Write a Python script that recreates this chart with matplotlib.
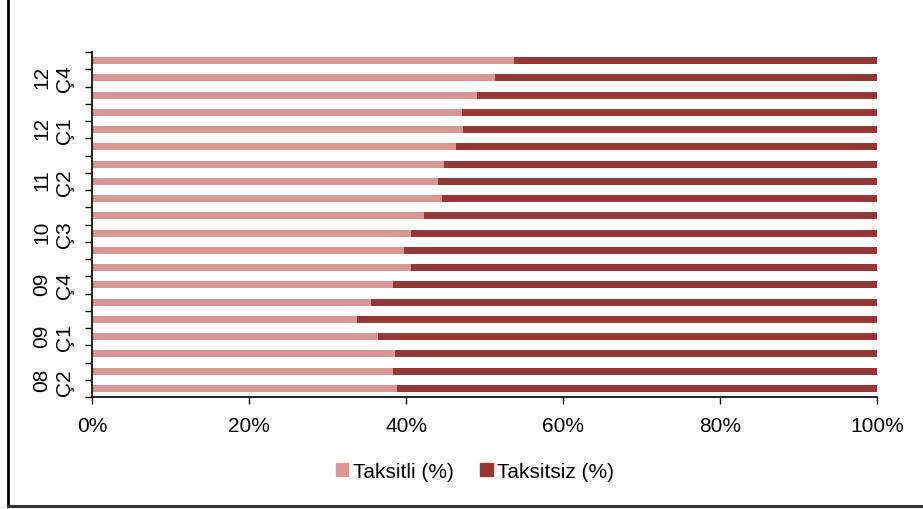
import numpy as np
import matplotlib.pyplot as plt
import matplotlib.transforms as mtransforms
from matplotlib.patches import Patch
from matplotlib.lines import Line2D

plt.rcParams['font.family'] = ['Liberation Sans', 'DejaVu Sans']

# quarters from 2008 Q2 to 2013 Q1 (bottom to top)
quarters = ["08\nÇ2", "08\nÇ3", "08\nÇ4",
            "09\nÇ1", "09\nÇ2", "09\nÇ3", "09\nÇ4",
            "10\nÇ1", "10\nÇ2", "10\nÇ3", "10\nÇ4",
            "11\nÇ1", "11\nÇ2", "11\nÇ3", "11\nÇ4",
            "12\nÇ1", "12\nÇ2", "12\nÇ3", "12\nÇ4",
            "13\nÇ1"]
taksitli = [38.9, 38.4, 38.6, 36.4, 33.7, 35.6, 38.4, 40.7, 39.8, 40.7,
            42.3, 44.6, 44.1, 44.8, 46.4, 47.2, 47.1, 49.0, 51.3, 53.7]
taksitsiz = [100 - v for v in taksitli]

light = "#D99694"
dark = "#953735"
fs = 15

fig = plt.figure(figsize=(9.23, 5.10), dpi=100)
ax = fig.add_axes([92 / 923, 1 - 398 / 510, 785 / 923, 345 / 510])

y = np.arange(len(quarters))
ax.barh(y, taksitli, height=0.4, color=light, label="Taksitli (%)")
ax.barh(y, taksitsiz, left=taksitli, height=0.4, color=dark, label="Taksitsiz (%)")

ax.set_xlim(0, 100)
ax.set_ylim(-0.5, len(quarters) - 0.5)
ax.set_xticks(range(0, 101, 20))
ax.set_xticklabels([f"{v}%" for v in range(0, 101, 20)], fontsize=fs)
ax.tick_params(axis="x", length=5, width=1, pad=9)

# labels every third quarter, tick marks between categories
lab_idx = list(range(0, len(quarters), 3))
ax.set_yticks(lab_idx)
ax.set_yticklabels([quarters[i] for i in lab_idx], rotation=90, va="center",
                   fontsize=fs, linespacing=1.25)
ax.tick_params(axis="y", which="major", length=0, pad=13)
ax.set_yticks(np.arange(-0.5, len(quarters)), minor=True)
ax.tick_params(axis="y", which="minor", length=5, width=1)

# keep the lowest label inside the axis height
first = ax.get_yticklabels()[0]
first.set_transform(first.get_transform() +
                    mtransforms.ScaledTranslation(0, 7 / 100, fig.dpi_scale_trans))

for s in ["top", "right"]:
    ax.spines[s].set_visible(False)
for s in ["left", "bottom"]:
    ax.spines[s].set_linewidth(1.2)

handles = [Patch(color=light), Patch(color=dark)]
fig.legend(handles, ["Taksitli (%)", "Taksitsiz (%)"], loc="center",
           bbox_to_anchor=(475 / 923, 1 - 472 / 510), ncol=2, frameon=False,
           fontsize=fs, handlelength=0.6, handleheight=0.6,
           handletextpad=0.2, columnspacing=1.3)

# outer chart frame
fig.add_artist(Line2D([8 / 923, 8 / 923], [1 - 507 / 510, 1.0], color="black",
                      lw=2, transform=fig.transFigure))
fig.add_artist(Line2D([8 / 923, 1.0], [1 - 507 / 510, 1 - 507 / 510],
                      color="#333333", lw=2.2, transform=fig.transFigure))

fig.savefig("out.png", dpi=100)
